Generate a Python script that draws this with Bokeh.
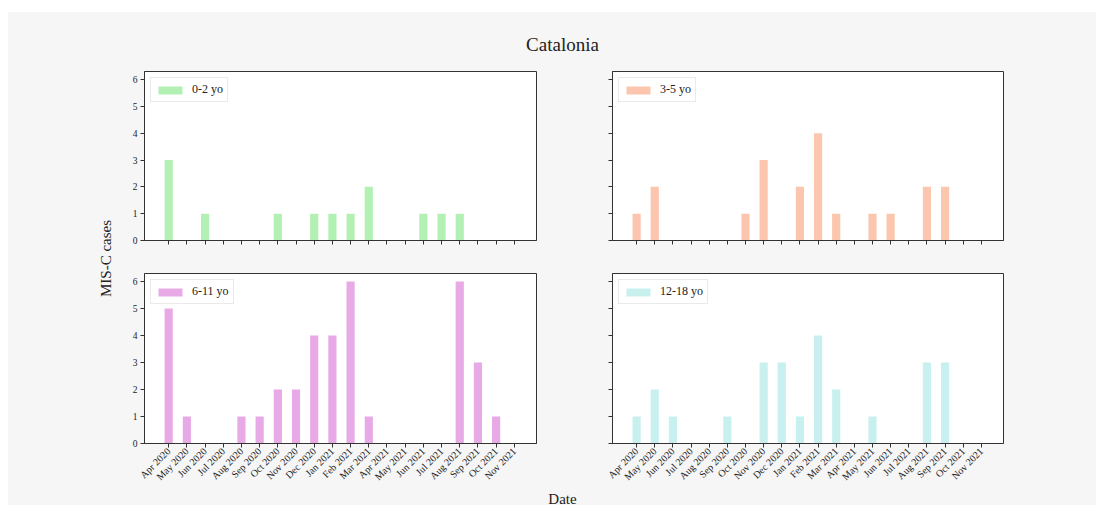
import math
from bokeh.plotting import figure
from bokeh.layouts import column, row
from bokeh.models import FixedTicker, Range1d, ColumnDataSource
from bokeh.core.properties import value
from bokeh.embed import file_html
from bokeh.resources import INLINE

months = ["Apr 2020", "May 2020", "Jun 2020", "Jul 2020", "Aug 2020", "Sep 2020",
          "Oct 2020", "Nov 2020", "Dec 2020", "Jan 2021", "Feb 2021", "Mar 2021",
          "Apr 2021", "May 2021", "Jun 2021", "Jul 2021", "Aug 2021", "Sep 2021",
          "Oct 2021", "Nov 2021"]
age_0_2 = [3, 0, 1, 0, 0, 0, 1, 0, 1, 1, 1, 2, 0, 0, 1, 1, 1, 0, 0, 0]
age_3_5 = [1, 2, 0, 0, 0, 0, 1, 3, 0, 2, 4, 1, 0, 1, 1, 0, 2, 2, 0, 0]
age_6_11 = [5, 1, 0, 0, 1, 1, 2, 2, 4, 4, 6, 1, 0, 0, 0, 0, 6, 3, 1, 0]
age_12_18 = [1, 2, 1, 0, 0, 1, 0, 3, 3, 1, 4, 2, 0, 1, 0, 0, 3, 3, 0, 0]
group_labels = ["0-2 yo", "3-5 yo", "6-11 yo", "12-18 yo"]
group_colors = ["#b3f0b3", "#fcc5ad", "#e8aae6", "#c8f0ef"]
y_ticks = [0, 1, 2, 3, 4, 5, 6]

BG = "#f6f6f6"
SERIF = "Liberation Serif"
TXT = "#222222"

xs = list(range(len(months)))


def panel(vals, label, color, left_col, top_row):
    w = 24 + 392 + 38 if left_col else 38 + 391 + 93
    h = 11 + 169 + 16 if top_row else 17 + 170 + 47
    p = figure(width=w, height=h, output_backend="svg", toolbar_location=None,
               x_range=Range1d(-1.33, 20.22), y_range=Range1d(0, 6.3))
    p.min_border_left = 24 if left_col else 38
    p.min_border_right = 38 if left_col else 93
    p.min_border_top = 11 if top_row else 17
    p.min_border_bottom = 16 if top_row else 47
    p.background_fill_color = "white"
    p.border_fill_color = BG
    p.outline_line_color = "#333333"
    p.outline_line_width = 1
    p.grid.visible = False
    src = ColumnDataSource(dict(x=xs, top=vals))
    p.vbar(x="x", top="top", width=0.45, source=src, fill_color=color,
           line_color=None, legend_label=label)
    for ax in (p.xaxis[0], p.yaxis[0]):
        ax.axis_line_color = "#333333"
        ax.major_tick_line_color = "#333333"
        ax.major_tick_out = 4
        ax.major_tick_in = 0
        ax.minor_tick_line_color = None
        ax.major_label_text_font = SERIF
        ax.major_label_text_color = TXT
        ax.major_label_standoff = 3
    p.xaxis.major_label_standoff = 2
    p.xaxis.major_label_text_font_size = "10px"
    p.yaxis.major_label_text_font_size = "9.5px"
    p.xaxis.ticker = FixedTicker(ticks=xs)
    p.yaxis.ticker = FixedTicker(ticks=y_ticks)
    if top_row:
        p.xaxis.major_label_overrides = {i: "" for i in xs}
        p.xaxis.major_label_text_font_size = "0px"
    else:
        p.xaxis.major_label_overrides = {i: m for i, m in zip(xs, months)}
        p.xaxis.major_label_orientation = math.pi / 4
    if not left_col:
        p.yaxis.major_label_overrides = {t: "" for t in y_ticks}
        p.yaxis.major_label_text_font_size = "0px"
    lg = p.legend[0]
    lg.location = "top_left"
    lg.margin = 6
    lg.padding = 4
    lg.spacing = 0
    lg.glyph_width = 30
    lg.glyph_height = 10
    lg.label_standoff = 7
    lg.label_text_font = SERIF
    lg.label_text_font_size = "12px"
    lg.label_text_color = TXT
    lg.border_line_color = "#d6d6d6"
    lg.border_line_width = 1
    lg.background_fill_color = "white"
    lg.background_fill_alpha = 0.9
    return p


def blank(w, h, fill=BG):
    f = figure(width=w, height=h, output_backend="svg", toolbar_location=None,
               x_range=Range1d(0, w), y_range=Range1d(0, h),
               x_axis_location=None, y_axis_location=None, min_border=0,
               title=None)
    f.grid.visible = False
    f.outline_line_color = None
    f.background_fill_color = fill
    f.border_fill_color = fill
    return f


header = blank(1088, 48)
header.text(x=[554], y=[16], text=["Catalonia"], text_font=value(SERIF),
            text_font_size="19px", text_align="center", text_baseline="middle",
            text_color=TXT)

ylab = blank(112, 430)
ylab.text(x=[97], y=[232], text=["MIS-C cases"], text_font=value(SERIF),
          text_font_size="15px", text_align="center", text_baseline="middle",
          angle=math.pi / 2, text_color=TXT)

footer = blank(1088, 15)
footer.text(x=[554], y=[15], text=["Date"], text_font=value(SERIF),
            text_font_size="15px", text_align="center", text_baseline="top",
            text_color=TXT)

p1 = panel(age_0_2, group_labels[0], group_colors[0], True, True)
p2 = panel(age_3_5, group_labels[1], group_colors[1], False, True)
p3 = panel(age_6_11, group_labels[2], group_colors[2], True, False)
p4 = panel(age_12_18, group_labels[3], group_colors[3], False, False)

grid = column(row(p1, p2, spacing=0), row(p3, p4, spacing=0), spacing=0,
              styles={"background-color": BG})
inner = column(header, row(ylab, grid, spacing=0, styles={"background-color": BG}),
               footer, spacing=0, styles={"background-color": BG})

top_white = blank(1096, 12, fill="white")
left_white = blank(8, 493, fill="white")
layout = column(top_white, row(left_white, inner, spacing=0), spacing=0)

open("out.html", "w").write(file_html(layout, INLINE))
